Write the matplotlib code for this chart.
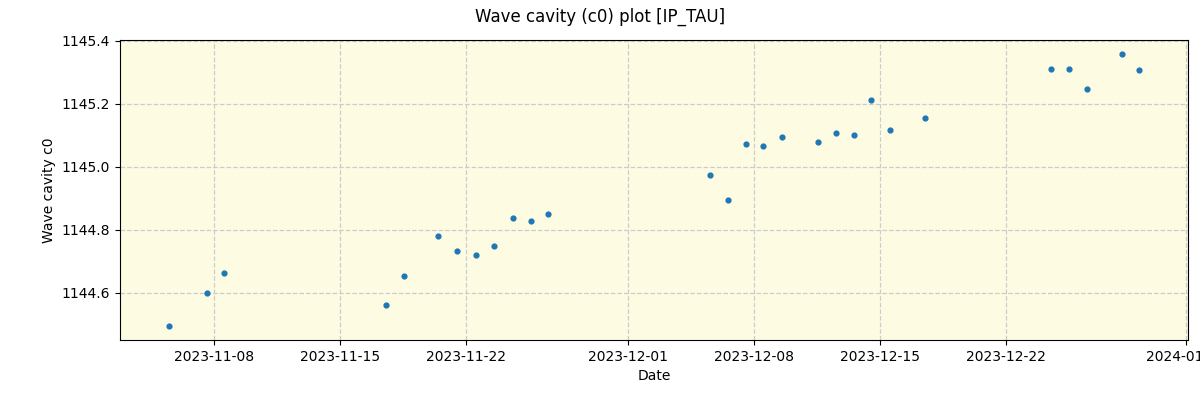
import matplotlib
matplotlib.use("Agg")
import matplotlib.pyplot as plt
import matplotlib.dates as mdates
import pandas as pd

dates = ["2023-11-05 12:00", "2023-11-07 15:00", "2023-11-08 14:00",
         "2023-11-17 14:00", "2023-11-18 13:30", "2023-11-20 10:30",
         "2023-11-21 12:00", "2023-11-22 13:30", "2023-11-23 13:30",
         "2023-11-24 14:30", "2023-11-25 14:30", "2023-11-26 13:30",
         "2023-12-05 13:30", "2023-12-06 13:30", "2023-12-07 13:30",
         "2023-12-08 12:00", "2023-12-09 13:30", "2023-12-11 13:30",
         "2023-12-12 13:30", "2023-12-13 13:30", "2023-12-14 12:00",
         "2023-12-15 13:30", "2023-12-17 12:00", "2023-12-24 12:00",
         "2023-12-25 12:00", "2023-12-26 12:00", "2023-12-28 10:30",
         "2023-12-29 09:30"]
values = [1144.495, 1144.600, 1144.663,
          1144.562, 1144.654, 1144.781,
          1144.733, 1144.721, 1144.749,
          1144.838, 1144.829, 1144.851,
          1144.975, 1144.895, 1145.073,
          1145.067, 1145.095, 1145.079,
          1145.108, 1145.102, 1145.213,
          1145.117, 1145.156, 1145.311,
          1145.311, 1145.248, 1145.359,
          1145.308]

x = pd.to_datetime(dates)

fig, ax = plt.subplots(figsize=(12, 4), dpi=100)
fig.subplots_adjust(left=0.1, right=0.99, top=0.9, bottom=0.15)
ax.set_facecolor("#fdfce3")
ax.scatter(x, values, s=12, color="#1f77b4", zorder=3)
ax.grid(True, linestyle="--", color="#cccccc", linewidth=0.9)
ax.set_axisbelow(True)
ax.set_xlim(pd.Timestamp("2023-11-02 18:40"), pd.Timestamp("2024-01-01 02:40"))
ax.set_ylim(1144.451, 1145.402)
ax.set_yticks([1144.6, 1144.8, 1145.0, 1145.2, 1145.4])
ax.xaxis.set_major_locator(mdates.DayLocator(bymonthday=[1, 8, 15, 22]))
ax.xaxis.set_major_formatter(mdates.DateFormatter("%Y-%m-%d"))
ax.set_xlabel("Date")
ax.set_ylabel("Wave cavity c0")
fig.suptitle("Wave cavity (c0) plot [IP_TAU]")
fig.savefig("out.png")
